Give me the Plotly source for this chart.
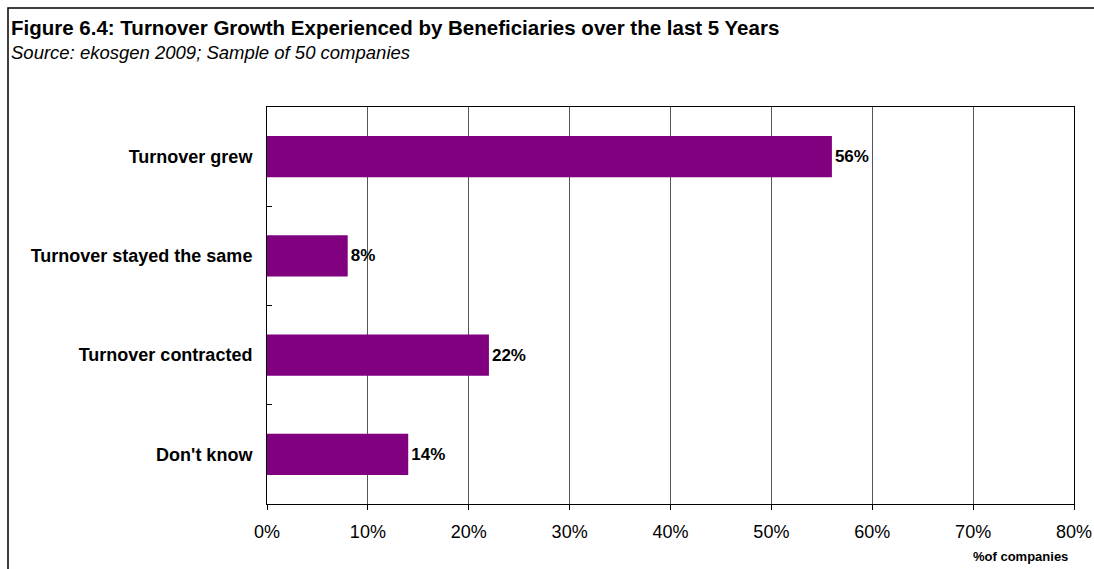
import plotly.graph_objects as go

categories = ["Turnover grew", "Turnover stayed the same", "Turnover contracted", "Don't know"]
values = [0.56, 0.08, 0.22, 0.14]
x_ticks = [0, 0.1, 0.2, 0.3, 0.4, 0.5, 0.6, 0.7, 0.8]

W, H = 1094, 569
L, R, T, B = 267, 20, 107, 65
pw, ph = W - L - R, H - T - B

def px(x):
    return (x - L) / pw

def py(y):
    return (H - B - y) / ph

FONT = "Liberation Sans, Arial, sans-serif"

fig = go.Figure(go.Bar(
    y=categories, x=values, orientation="h",
    marker=dict(color="#800080", line=dict(width=0)),
    text=[f"<b>{round(v*100)}%</b>" for v in values],
    textposition="outside", cliponaxis=False,
    textfont=dict(family=FONT, size=17, color="black"),
))

fig.update_layout(
    width=W, height=H,
    margin=dict(l=L, r=R, t=T, b=B, autoexpand=False),
    paper_bgcolor="white", plot_bgcolor="white",
    bargap=0.585, showlegend=False,
    font=dict(family=FONT, color="black"),
    xaxis=dict(range=[0, 0.8], tickvals=x_ticks, tickformat=".0%",
               showgrid=True, gridcolor="#555555", gridwidth=1,
               showline=True, linecolor="black", linewidth=1, mirror=True,
               ticks="outside", ticklen=5, tickcolor="black",
               tickfont=dict(size=18, family=FONT), ticklabelstandoff=6,
               zeroline=False, fixedrange=True, automargin=False),
    yaxis=dict(categoryorder="array", categoryarray=categories[::-1],
               showline=True, linecolor="black", linewidth=1, mirror=True,
               ticks="inside", ticklen=5, tickcolor="black", tickson="boundaries",
               showgrid=False, tickfont=dict(size=18, family=FONT),
               ticklabelstandoff=10, fixedrange=True, automargin=False,
               tickmode="array", tickvals=categories,
               ticktext=[f"<b>{c}</b>" for c in categories]),
    shapes=[dict(type="rect", xref="paper", yref="paper",
                 x0=px(8), x1=px(1110), y0=py(585), y1=py(8),
                 line=dict(color="black", width=1.5), layer="above")],
    annotations=[
        dict(text="<b>Figure 6.4: Turnover Growth Experienced by Beneficiaries over the last 5 Years</b>",
             xref="paper", yref="paper", x=px(9), y=py(14), xanchor="left", yanchor="top",
             showarrow=False, font=dict(size=20.5, family=FONT)),
        dict(text="<i>Source: ekosgen 2009; Sample of 50 companies</i>",
             xref="paper", yref="paper", x=px(9), y=py(40), xanchor="left", yanchor="top",
             showarrow=False, font=dict(size=18.5, family=FONT)),
        dict(text="<b>%of companies</b>",
             xref="paper", yref="paper", x=px(1070), y=py(547), xanchor="right", yanchor="top",
             showarrow=False, font=dict(size=13, family=FONT)),
    ],
)

fig.write_html("out.html")
